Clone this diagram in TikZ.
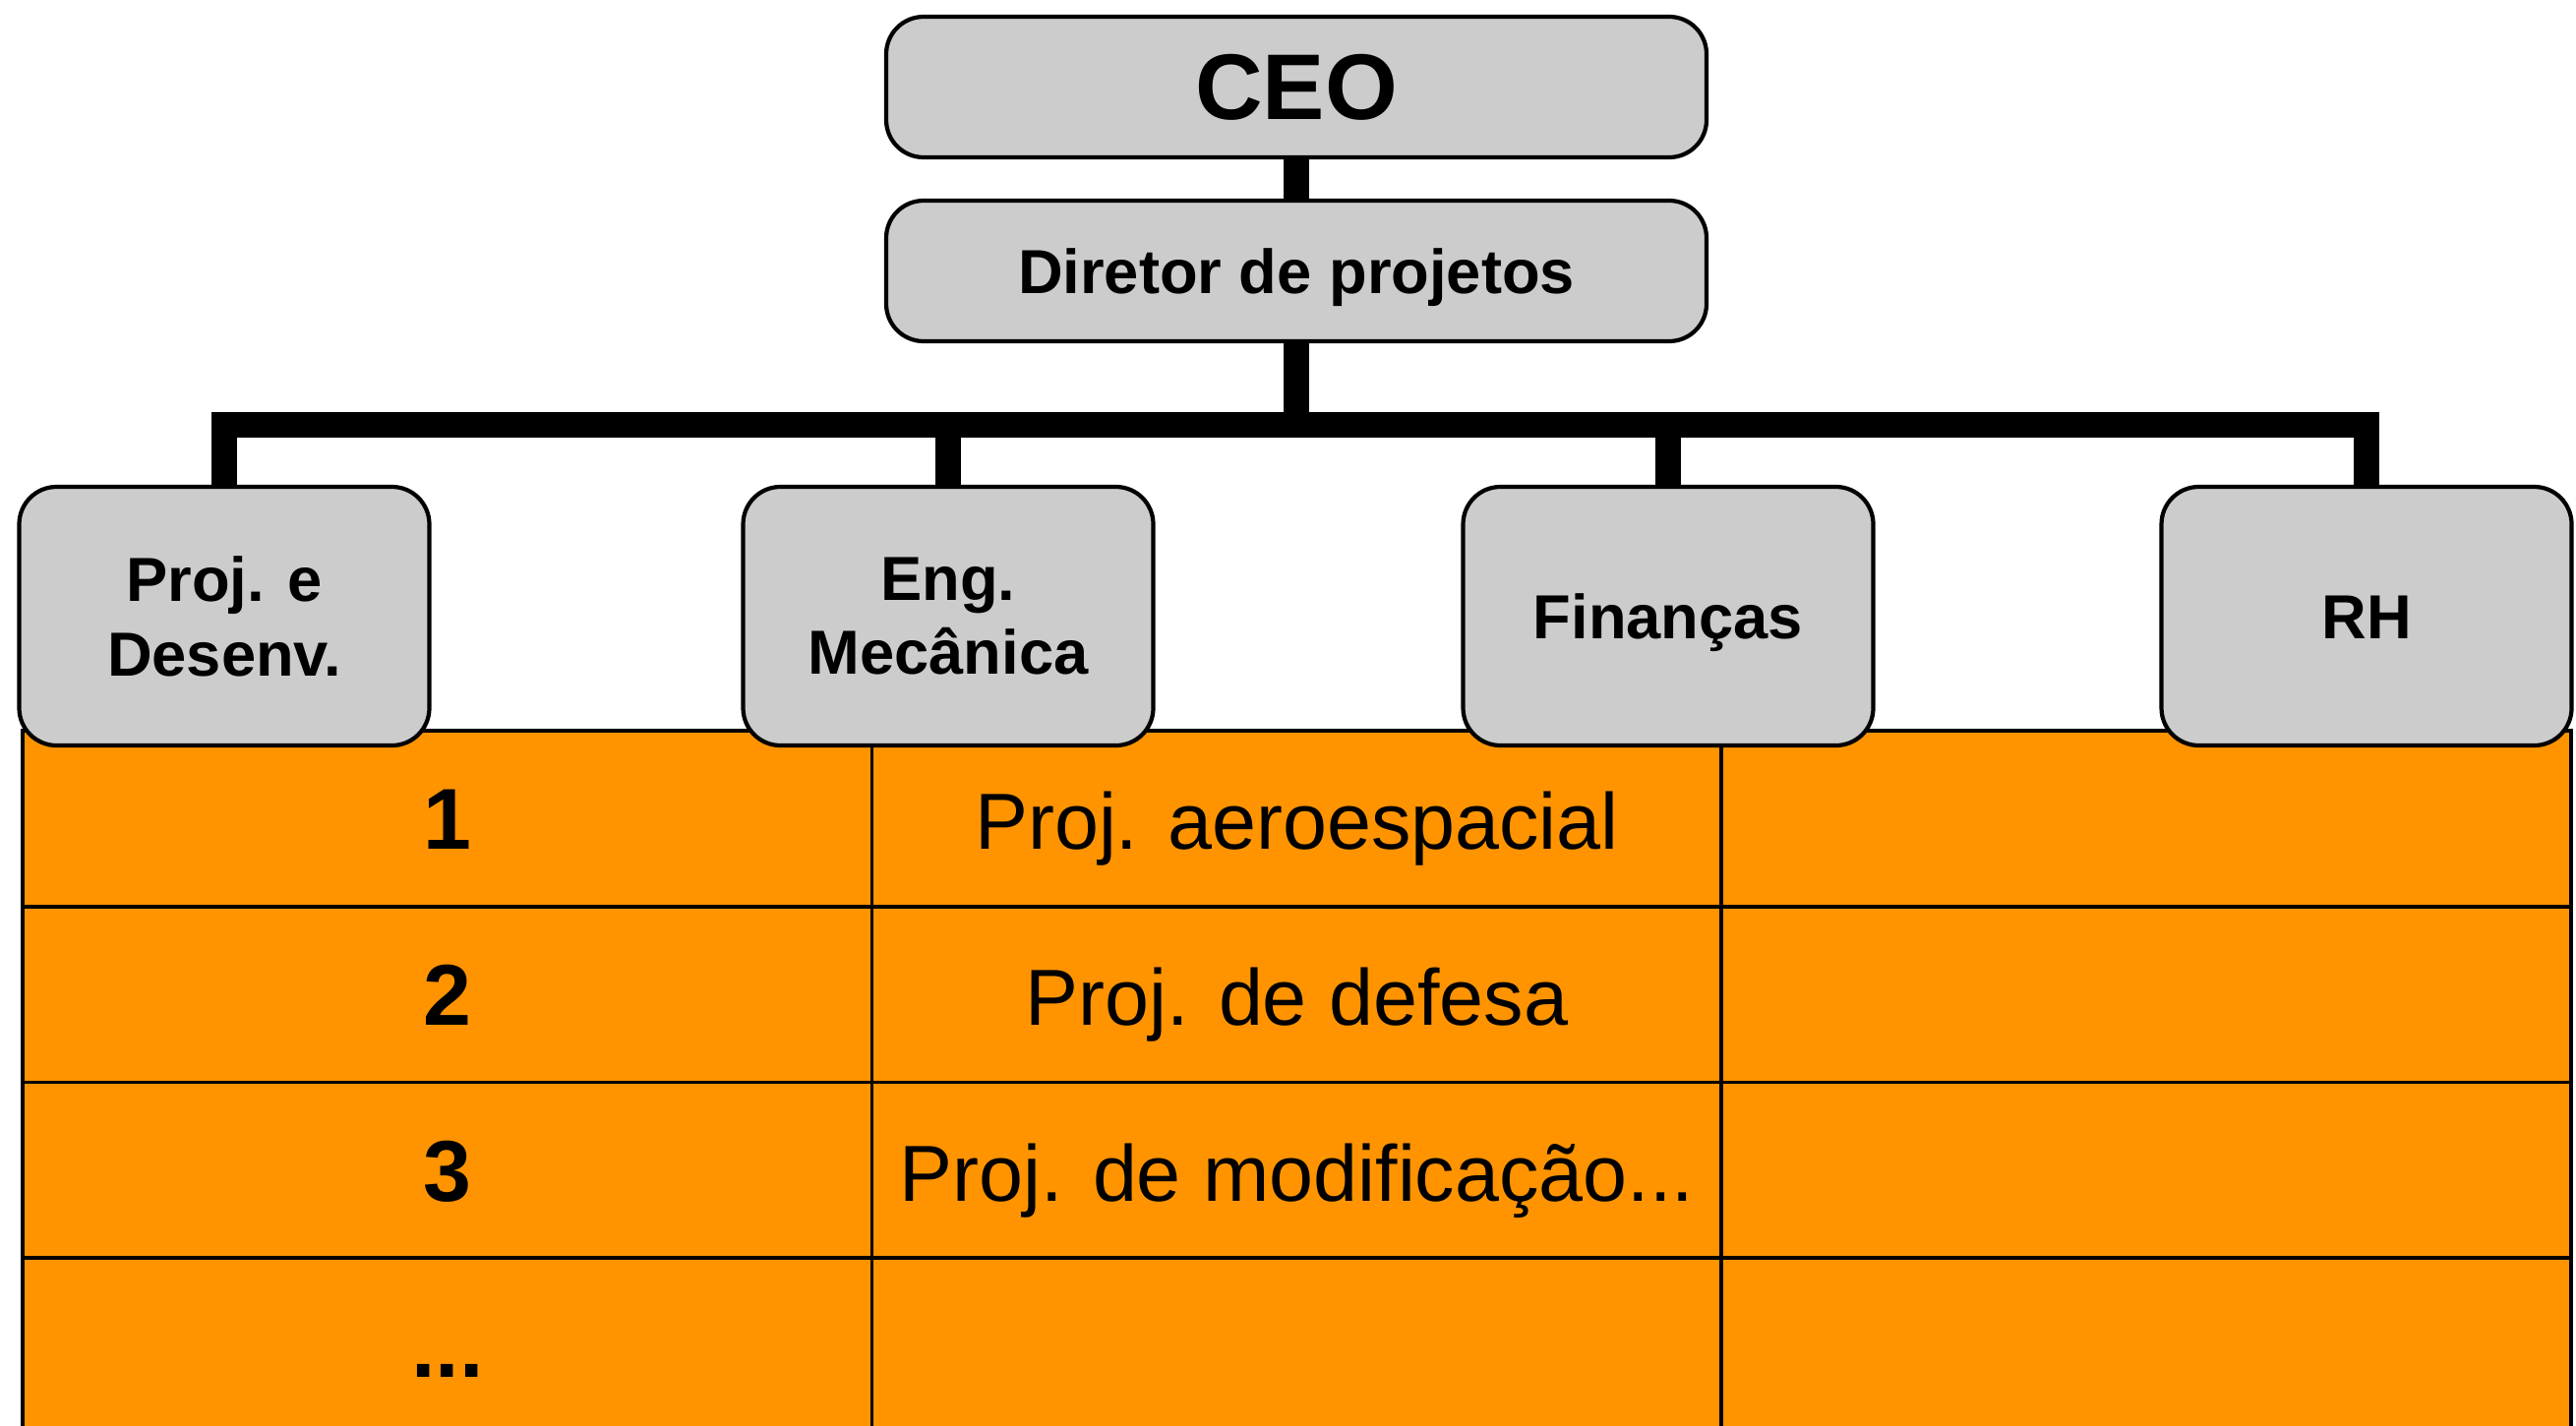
\documentclass[tikz,border=0pt]{standalone}
\usepackage{fontspec}
\setmainfont{Liberation Sans}
\definecolor{boxgray}{HTML}{CCCCCC}
\definecolor{cellorange}{HTML}{FF9400}
\tikzset{
unit/.style={draw, fill=boxgray, rounded corners=.38cm, line width=1.2pt, align=center, font=\bfseries\fontsize{18}{21.6}\selectfont}, % gray boxes of the chart
oneline/.style={text height=.46cm, text depth=0pt}, % centre the capitals, not the descenders
dept/.style={unit, minimum width=4.17cm, minimum height=2.63cm}, % the four departments
link/.style={line width=7.4pt}, % thick black connectors
cell/.style={draw, fill=cellorange, line width=1pt, minimum width=8.637cm, minimum height=1.787cm, inner sep=0pt, text height=.63cm, text depth=0pt}, % one cell of the table
numcell/.style={cell, font=\bfseries\fontsize{25}{30}\selectfont},
projcell/.style={cell, font=\fontsize{23}{27.6}\selectfont},
}
\begin{document}
\begin{tikzpicture}
    \useasboundingbox (0,0) rectangle (26.19,-14.49);
    \clip (0,0) rectangle (26.19,-14.49);
    % table of projects, behind the chart
    \node[numcell] at (4.55,-8.324) (n1) {1};
    \node[projcell] at (13.185,-8.324) (p1) {Proj. aeroespacial};
    \node[cell] at (21.82,-8.324) (e1) {};
    \node[numcell] at (4.55,-10.111) (n2) {2};
    \node[projcell] at (13.185,-10.111) (p2) {Proj. de defesa};
    \node[cell] at (21.82,-10.111) (e2) {};
    \node[numcell] at (4.55,-11.898) (n3) {3};
    \node[projcell] at (13.185,-11.898) (p3) {Proj. de modificação...};
    \node[cell] at (21.82,-11.898) (e3) {};
    \node[numcell] at (4.55,-13.685) (n4) {...};
    \node[projcell] at (13.185,-13.685) (p4) {};
    \node[cell] at (21.82,-13.685) (e4) {};
    % chart
    \node[unit, minimum width=8.34cm, minimum height=1.43cm, font=\bfseries\fontsize{27}{32}\selectfont] at (13.18,-0.885) (ceo) {CEO};
    \node[unit, oneline, minimum width=8.34cm, minimum height=1.43cm] at (13.18,-2.755) (dir) {Diretor de projetos};
    \node[dept] at (2.28,-6.265) (pd) {Proj. e\\Desenv.};
    \node[dept] at (9.64,-6.265) (eng) {Eng.\\Mecânica};
    \node[dept, oneline] at (16.96,-6.265) (fin) {Finanças};
    \node[dept, oneline] at (24.06,-6.265) (rh) {RH};
    \coordinate (bus) at (13.18,-4.32);
    \draw[link] (ceo) -- (dir);
    \draw[link] (dir) -- (bus) -| (pd);
    \draw[link] (dir) -- (bus) -| (eng);
    \draw[link] (dir) -- (bus) -| (fin);
    \draw[link] (dir) -- (bus) -| (rh);
\end{tikzpicture}
\end{document}
